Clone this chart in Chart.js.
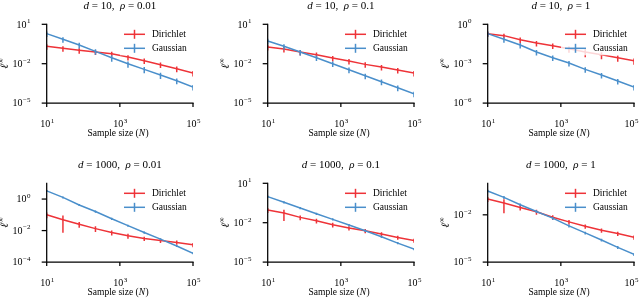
<!DOCTYPE html>
<html><head><meta charset="utf-8">
<script src="https://cdn.jsdelivr.net/npm/chart.js@4.4.0/dist/chart.umd.min.js"></script>
<style>
html,body{margin:0;padding:0;background:#fff;}
#wrap{position:relative;width:640px;height:301px;overflow:hidden;background:#fff;}
#wrap canvas{position:absolute;left:0;top:0;}
</style></head><body><div id="wrap"></div>
<script>
// ---------- data ----------
const sampleSizes = [10, 27.8, 77.4, 215.4, 599.5, 1668, 4642, 12915, 35938, 100000];
const xTicks = [1e1, 1e3, 1e5];
const seriesNames = ['Dirichlet', 'Gaussian'];
const dValues = [10, 10, 10, 1000, 1000, 1000];
const rhoLabels = ['0.01', '0.1', '1', '0.01', '0.1', '1'];

const dirichlet1 = [0.210, 0.148, 0.104, 0.0776, 0.0579, 0.0322, 0.0169, 0.00838, 0.00415, 0.00194];
const gaussian1  = [1.94, 0.718, 0.266, 0.0873, 0.0287, 0.0100, 0.00369, 0.00137, 0.000505, 0.000166];
const dirichletErr1 = [0.45, 0.45, 0.45, 0.4, 0.4, 0.45, 0.45, 0.45, 0.45, 0.45];
const gaussianErr1  = [0.45, 0.45, 0.45, 0.45, 0.5, 0.5, 0.5, 0.5, 0.45, 0.45];

const dirichlet2 = [0.187, 0.132, 0.0776, 0.0485, 0.0270, 0.0160, 0.00889, 0.00557, 0.00329, 0.00194];
const gaussian2  = [0.536, 0.210, 0.0776, 0.0286, 0.0100, 0.00348, 0.00121, 0.000424, 0.000148, 0.0000514];
const dirichletErr2 = [0.45, 0.45, 0.45, 0.45, 0.45, 0.45, 0.45, 0.45, 0.45, 0.45];
const gaussianErr2  = [0.45, 0.45, 0.45, 0.45, 0.45, 0.45, 0.45, 0.45, 0.45, 0.45];

const dirichlet3 = [0.194, 0.137, 0.0676, 0.0377, 0.0236, 0.0139, 0.00776, 0.00485, 0.00286, 0.00169];
const gaussian3  = [0.194, 0.0718, 0.0265, 0.00776, 0.00286, 0.00113, 0.000369, 0.000137, 0.0000476, 0.0000166];
const dirichletErr3 = [0.4, 0.4, 0.45, 0.45, 0.45, 0.5, 0.6, 0.55, 0.5, 0.5];
const gaussianErr3  = [0.45, 0.45, 0.45, 0.45, 0.45, 0.45, 0.45, 0.45, 0.45, 0.45];

const dirichlet4 = [0.100, 0.0487, 0.0249, 0.0133, 0.0075, 0.00464, 0.00316, 0.00237, 0.00178, 0.00127];
const gaussian4  = [3.32, 1.27, 0.422, 0.161, 0.0562, 0.0205, 0.0075, 0.00287, 0.00105, 0.000365];
const dirichletErr4 = [0.4, 0.85, 0.4, 0.4, 0.35, 0.35, 0.3, 0.3, 0.3, 0.3];
const gaussianErr4  = [0.15, 0.15, 0.15, 0.15, 0.15, 0.15, 0.15, 0.15, 0.15, 0.15];

const dirichlet5 = [0.0925, 0.0546, 0.0255, 0.0142, 0.00703, 0.00392, 0.00245, 0.00137, 0.00076, 0.000449];
const gaussian5  = [0.962, 0.356, 0.132, 0.0485, 0.0180, 0.00664, 0.00245, 0.000855, 0.000281, 0.000098];
const dirichletErr5 = [0.4, 0.75, 0.4, 0.4, 0.4, 0.35, 0.35, 0.35, 0.35, 0.35];
const gaussianErr5  = [0.2, 0.2, 0.2, 0.2, 0.2, 0.2, 0.2, 0.2, 0.2, 0.2];

const dirichlet6 = [0.100, 0.0556, 0.0294, 0.0155, 0.0071, 0.00357, 0.00189, 0.00105, 0.000644, 0.000375];
const gaussian6  = [0.324, 0.128, 0.0435, 0.0163, 0.00612, 0.00199, 0.00071, 0.000254, 0.0000863, 0.0000308];
const dirichletErr6 = [0.35, 0.77, 0.35, 0.35, 0.33, 0.33, 0.3, 0.3, 0.3, 0.3];
const gaussianErr6  = [0.2, 0.2, 0.2, 0.2, 0.2, 0.2, 0.2, 0.2, 0.2, 0.2];

const yLimits = [[1e-5, 1e1], [1e-5, 1e1], [1e-6, 1e0], [1e-4, 1e1], [1e-5, 1e1], [1e-5, 1e0]];
const yTicksList = [[1e1, 1e-2, 1e-5], [1e1, 1e-2, 1e-5], [1e0, 1e-3, 1e-6], [1e0, 1e-2, 1e-4], [1e1, 1e-2, 1e-5], [1e-2, 1e-5]];

const dirichletAll = [dirichlet1, dirichlet2, dirichlet3, dirichlet4, dirichlet5, dirichlet6];
const gaussianAll = [gaussian1, gaussian2, gaussian3, gaussian4, gaussian5, gaussian6];
const dirichletErrAll = [dirichletErr1, dirichletErr2, dirichletErr3, dirichletErr4, dirichletErr5, dirichletErr6];
const gaussianErrAll = [gaussianErr1, gaussianErr2, gaussianErr3, gaussianErr4, gaussianErr5, gaussianErr6];

// ---------- layout / style ----------
const W = 640, H = 301;
const RED = '#ee3338', BLUE = '#4a8fcb';
const colLeft = [46.7, 267.7, 487.7];
const rowTop = [24.3, 183.3];
const plotW = 146.3, plotH = 78.8;
const SERIF = '"Liberation Serif","Times New Roman","DejaVu Serif",serif';

function supLabel(ctx, exp, x, y, align, size) {
  const base = size + 'px ' + SERIF, sup = (size * 0.7).toFixed(1) + 'px ' + SERIF;
  ctx.font = base; const w1 = ctx.measureText('10').width;
  ctx.font = sup; const w2 = ctx.measureText(exp).width;
  const tot = w1 + w2 + 0.5;
  let x0 = align === 'right' ? x - tot : x - tot / 2;
  if (x0 + tot > W - 1.5) x0 = W - 1.5 - tot;
  ctx.textAlign = 'left'; ctx.textBaseline = 'alphabetic';
  ctx.font = base; ctx.fillText('10', x0, y + size * 0.33);
  ctx.font = sup; ctx.fillText(exp, x0 + w1 + 0.5, y - size * 0.12);
}
function expStr(v) { const e = Math.round(Math.log10(v)); return (e < 0 ? '\u2212' + (-e) : '' + e); }

const errorBarPlugin = {
  id: 'errbars',
  afterDatasetDraw(chart, args) {
    const ds = chart.data.datasets[args.index];
    const xs = chart.scales.x, ys = chart.scales.y, a = chart.chartArea, ctx = chart.ctx;
    ctx.save();
    ctx.beginPath(); ctx.rect(a.left, a.top, a.right - a.left, a.bottom - a.top); ctx.clip();
    ctx.strokeStyle = ds.borderColor; ctx.lineWidth = 1.5;
    ds.data.forEach((p, i) => {
      const f = ds.errFrac[i];
      const lo = p.y * (1 - f), hi = p.y * (1 + f);
      const px = xs.getPixelForValue(p.x);
      const pyLo = lo > 0 ? ys.getPixelForValue(lo) : a.bottom + 5;
      const pyHi = ys.getPixelForValue(hi);
      ctx.beginPath(); ctx.moveTo(px, pyLo); ctx.lineTo(px, pyHi); ctx.stroke();
    });
    ctx.restore();
  }
};

const decorPlugin = {
  id: 'decor',
  afterDraw(chart) {
    const ctx = chart.ctx, a = chart.chartArea, xs = chart.scales.x, ys = chart.scales.y;
    const k = chart.options.plugins.decor.panel;
    const L = a.left, R = a.right, T = a.top, B = a.bottom;
    ctx.save();
    ctx.strokeStyle = '#000'; ctx.lineWidth = 1.25; ctx.lineCap = 'square';
    ctx.beginPath(); ctx.moveTo(L, T); ctx.lineTo(L, B); ctx.lineTo(R, B); ctx.stroke();
    ctx.lineCap = 'butt';
    ctx.fillStyle = '#000';
    const yt = (ys.ticks && ys.ticks.length) ? ys.ticks.map(t => t.value) : yTicksList[k];
    yt.forEach(v => {
      const py = ys.getPixelForValue(v);
      ctx.beginPath(); ctx.moveTo(L - 5, py); ctx.lineTo(L, py); ctx.stroke();
      supLabel(ctx, expStr(v), L - 16.3, py, 'right', 10);
    });
    const xt = (xs.ticks && xs.ticks.length) ? xs.ticks.map(t => t.value) : xTicks;
    xt.forEach(v => {
      const px = xs.getPixelForValue(v);
      ctx.beginPath(); ctx.moveTo(px, B); ctx.lineTo(px, B + 4); ctx.stroke();
      supLabel(ctx, expStr(v), px + 0.5, B + 20.7, 'center', 10);
    });
    ctx.textBaseline = 'alphabetic';
    const cx = (L + R) / 2;
    const p1 = 'Sample size (', p2 = 'N', p3 = ')';
    ctx.font = '9.5px ' + SERIF; const w1 = ctx.measureText(p1).width, w3 = ctx.measureText(p3).width;
    ctx.font = 'italic 9.5px ' + SERIF; const w2 = ctx.measureText(p2).width;
    let x0 = cx - (w1 + w2 + w3) / 2 - 2;
    ctx.textAlign = 'left';
    ctx.font = '9.5px ' + SERIF; ctx.fillText(p1, x0, B + 33);
    ctx.font = 'italic 9.5px ' + SERIF; ctx.fillText(p2, x0 + w1, B + 33);
    ctx.font = '9.5px ' + SERIF; ctx.fillText(p3, x0 + w1 + w2 + 0.5, B + 33);
    ctx.save();
    ctx.translate(L - 42, (T + B) / 2);
    ctx.rotate(-Math.PI / 2);
    ctx.font = 'italic 11px ' + SERIF; const wl = ctx.measureText('\u2113').width;
    ctx.font = '7.5px ' + SERIF; const wi = ctx.measureText('\u221E').width;
    const sx = -(wl + wi) / 2;
    ctx.font = 'italic 11px ' + SERIF; ctx.fillText('\u2113', sx, 3.5);
    ctx.font = '7.5px ' + SERIF; ctx.fillText('\u221E', sx + wl + 0.3, -1.5);
    ctx.restore();
    const segs = [['d', true], [' = ' + dValues[k] + ',  ', false], ['\u03C1', true], [' = ' + rhoLabels[k], false]];
    let tw = 0;
    segs.forEach(s => { ctx.font = (s[1] ? 'italic ' : '') + '11px ' + SERIF; s.push(ctx.measureText(s[0]).width); tw += s[2]; });
    let tx = cx - tw / 2;
    segs.forEach(s => { ctx.font = (s[1] ? 'italic ' : '') + '11px ' + SERIF; ctx.fillText(s[0], tx, T - 15); tx += s[2]; });
    const lx = L + 77.3;
    ctx.font = '9.5px ' + SERIF;
    const textW = Math.max(...seriesNames.map(n => ctx.measureText(n).width));
    ctx.fillStyle = 'rgba(255,255,255,0.8)';
    ctx.fillRect(lx - 4, T + 3, 21 + 7 + textW + 5, 28);
    chart.data.datasets.forEach((ds, i) => {
      const ly = T + 10 + i * 14;
      ctx.strokeStyle = ds.borderColor; ctx.lineWidth = 1.5;
      ctx.beginPath(); ctx.moveTo(lx, ly); ctx.lineTo(lx + 21, ly); ctx.stroke();
      ctx.beginPath(); ctx.moveTo(lx + 10.5, ly - 4.5); ctx.lineTo(lx + 10.5, ly + 4.5); ctx.stroke();
      ctx.fillStyle = '#000'; ctx.textBaseline = 'middle'; ctx.textAlign = 'left';
      ctx.fillText(ds.label, lx + 28, ly + 0.5);
    });
    ctx.restore();
  }
};

const wrap = document.getElementById('wrap');
for (let k = 0; k < 6; k++) {
  const c = document.createElement('canvas');
  c.width = W; c.height = H; c.style.width = W + 'px'; c.style.height = H + 'px';
  wrap.appendChild(c);
  const L = colLeft[k % 3], T = rowTop[Math.floor(k / 3)];
  new Chart(c, {
    type: 'line',
    data: {
      datasets: [
        { label: seriesNames[0], data: sampleSizes.map((x, i) => ({ x: x, y: dirichletAll[k][i] })),
          errFrac: dirichletErrAll[k], borderColor: RED, backgroundColor: RED, borderWidth: 1.5,
          pointRadius: 0, tension: 0, order: 1 },
        { label: seriesNames[1], data: sampleSizes.map((x, i) => ({ x: x, y: gaussianAll[k][i] })),
          errFrac: gaussianErrAll[k], borderColor: BLUE, backgroundColor: BLUE, borderWidth: 1.5,
          pointRadius: 0, tension: 0, order: 0 }
      ]
    },
    options: {
      responsive: false, animation: false, devicePixelRatio: 1,
      layout: { padding: { left: L, right: W - L - plotW, top: T, bottom: H - T - plotH } },
      plugins: { legend: { display: false }, tooltip: { enabled: false }, title: { display: false }, decor: { panel: k } },
      scales: {
        x: { type: 'logarithmic', min: 10, max: 1e5, display: false,
             afterBuildTicks: s => { s.ticks = xTicks.map(v => ({ value: v })); } },
        y: { type: 'logarithmic', min: yLimits[k][0], max: yLimits[k][1], display: false,
             afterBuildTicks: s => { s.ticks = yTicksList[k].map(v => ({ value: v })); } }
      }
    },
    plugins: [errorBarPlugin, decorPlugin]
  });
}
</script></body></html>
